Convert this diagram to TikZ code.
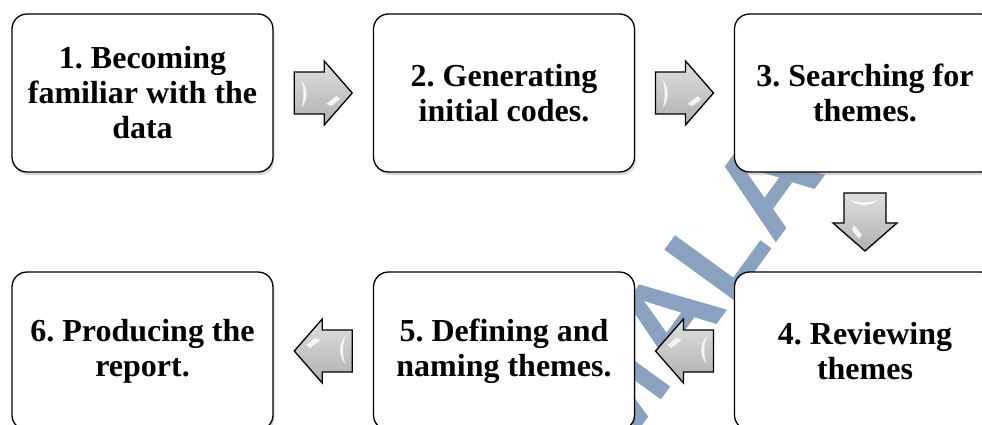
\documentclass[tikz,border=0pt]{standalone}
\usepackage{fontspec}
\setmainfont{Liberation Serif}
\newfontfamily\wmfont{Liberation Sans}
\usetikzlibrary{shadows,calc}
\definecolor{wm}{RGB}{118,146,180}
\frenchspacing
\tikzset{
  stage/.style={draw=black, line width=1.3pt, rounded corners=15pt, fill=white,
    minimum width=261pt, minimum height=158pt, align=center,
    font=\bfseries\fontsize{32}{35}\selectfont,
    drop shadow={shadow xshift=1.5pt, shadow yshift=-3pt, opacity=0.3, fill=gray}},
  blockarrow/.pic={
    \path[draw=black, line width=1.3pt, top color=gray!25, bottom color=gray!62]
      (-29,-21) -- (1,-21) -- (1,-32) -- (29,0) -- (1,32) -- (1,21) -- (-29,21) -- cycle;
    \fill[white, opacity=0.85] (-22,-13) .. controls (-15,-4) and (-15,6) .. (-22,15)
      .. controls (-19,6) and (-19,-4) .. (-22,-13);
    \fill[white, opacity=0.8] (3,11) -- (13,3) -- (17,6) -- (8,13) -- cycle;
  }
}
\begin{document}
\begin{tikzpicture}[x=1pt,y=-1pt]
\useasboundingbox (0,0) rectangle (982,424);
\clip (0,0) rectangle (982,424);
\fill[white] (0,0) rectangle (982,424);
\node[rotate=54, text=wm, opacity=0.85, font=\wmfont\bfseries\fontsize{125}{125}\selectfont, anchor=south west, inner sep=0pt] (wmark) at (615,465) {MALAYA};
\node[stage] (s1) at (142.5,93) {1. Becoming\\familiar with the\\data};
\node[stage] (s2) at (504,93) {2. Generating\\initial codes.};
\node[stage] (s3) at (865,93) {3. Searching for\\themes.};
\node[stage] (s4) at (865,351) {4. Reviewing\\themes};
\node[stage] (s5) at (504,351) {5. Defining and\\naming themes.};
\node[stage] (s6) at (142.5,351) {6. Producing the\\report.};
\path ($(s1.east)!0.5!(s2.west)$) pic {blockarrow};
\path ($(s2.east)!0.5!(s3.west)$) pic {blockarrow};
\path ($(s3.south)!0.5!(s4.north)$) pic[rotate=-90] {blockarrow};
\path ($(s4.west)!0.5!(s5.east)$) pic[rotate=180] {blockarrow};
\path ($(s5.west)!0.5!(s6.east)$) pic[rotate=180] {blockarrow};
\end{tikzpicture}
\end{document}
